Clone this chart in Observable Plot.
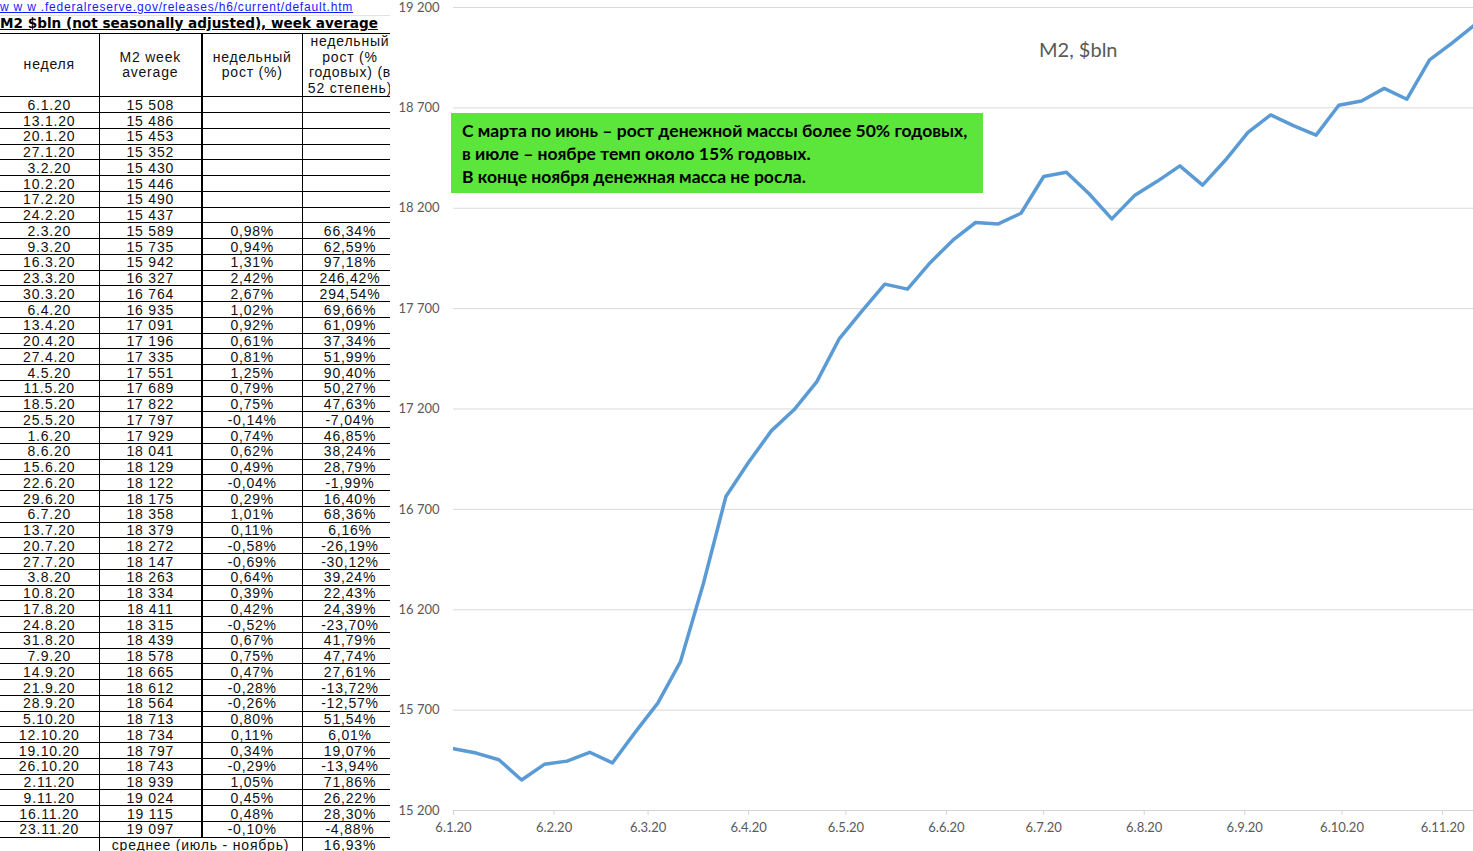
<!DOCTYPE html>
<html><head><meta charset="utf-8">
<script src="https://cdn.jsdelivr.net/npm/d3@7"></script>
<script src="https://cdn.jsdelivr.net/npm/@observablehq/plot@0.6"></script>
<style>
html,body{margin:0;padding:0;background:#fff;}
body{width:1473px;height:851px;overflow:hidden;position:relative;}
#url{position:absolute;left:0;top:0;font:12px "Liberation Sans",Arial,sans-serif;color:#1a1aff;text-decoration:underline;white-space:nowrap;line-height:14px;letter-spacing:0.8px}
#gl{position:absolute;left:0;top:15px;width:390px;border-top:1px solid #e3e3e3}
#ttl{position:absolute;left:0;top:15px;font:bold 13.6px "DejaVu Sans",Verdana,sans-serif;text-decoration:underline;white-space:nowrap;line-height:17px}
table{position:absolute;left:0;top:33px;border-collapse:collapse;table-layout:fixed;width:398px;font:14px "Liberation Sans",Arial,sans-serif;letter-spacing:0.8px;color:#111}
td{border:1px solid #000;padding:0;text-align:center;white-space:nowrap;overflow:visible;height:14.76px;line-height:14px;vertical-align:middle}
td.c1{border-left:none}
td.c3{border-left:2px solid #000}
tr.h td{height:61px;line-height:15.6px}
tr.last td.c1{border-left:none;border-bottom:none}
tr.last td{border-bottom:none}
#chart{position:absolute;left:390px;top:0}
#title{position:absolute;left:1039px;top:37px;font:20px Lato,"Open Sans",sans-serif;color:#595959;white-space:nowrap}
#note{position:absolute;left:451px;top:113px;width:532px;height:80px;background:#5ce53a;box-sizing:border-box;padding:6px 0 0 11px;font:bold 17.5px Lato,"Open Sans",sans-serif;line-height:23px;color:#000;white-space:nowrap}
</style></head>
<body>
<div id="url">w w w .federalreserve.gov/releases/h6/current/default.htm</div>
<div id="gl"></div>
<div id="ttl">M2 $bln (not seasonally adjusted), week average</div>
<table id="tbl"><colgroup><col style="width:99px"><col style="width:103px"><col style="width:100px"><col style="width:96px"></colgroup><tbody></tbody></table>
<div id="chart"></div>
<div id="title">M2, $bln</div>
<div id="note">С марта по июнь – рост денежной массы более 50% годовых,<br>в июле – ноябре темп около 15% годовых.<br>В конце ноября денежная масса не росла.</div>
<script>
// ---- data ----
const weeks = ["6.1.20","13.1.20","20.1.20","27.1.20","3.2.20","10.2.20","17.2.20","24.2.20","2.3.20","9.3.20","16.3.20","23.3.20","30.3.20","6.4.20","13.4.20","20.4.20","27.4.20","4.5.20","11.5.20","18.5.20","25.5.20","1.6.20","8.6.20","15.6.20","22.6.20","29.6.20","6.7.20","13.7.20","20.7.20","27.7.20","3.8.20","10.8.20","17.8.20","24.8.20","31.8.20","7.9.20","14.9.20","21.9.20","28.9.20","5.10.20","12.10.20","19.10.20","26.10.20","2.11.20","9.11.20","16.11.20","23.11.20"];
const m2 = [15508,15486,15453,15352,15430,15446,15490,15437,15589,15735,15942,16327,16764,16935,17091,17196,17335,17551,17689,17822,17797,17929,18041,18129,18122,18175,18358,18379,18272,18147,18263,18334,18411,18315,18439,18578,18665,18612,18564,18713,18734,18797,18743,18939,19024,19115,19097];
const weeklyGrowth = [null,null,null,null,null,null,null,null,0.98,0.94,1.31,2.42,2.67,1.02,0.92,0.61,0.81,1.25,0.79,0.75,-0.14,0.74,0.62,0.49,-0.04,0.29,1.01,0.11,-0.58,-0.69,0.64,0.39,0.42,-0.52,0.67,0.75,0.47,-0.28,-0.26,0.80,0.11,0.34,-0.29,1.05,0.45,0.48,-0.10];
const annualGrowth = [null,null,null,null,null,null,null,null,66.34,62.59,97.18,246.42,294.54,69.66,61.09,37.34,51.99,90.40,50.27,47.63,-7.04,46.85,38.24,28.79,-1.99,16.40,68.36,6.16,-26.19,-30.12,39.24,22.43,24.39,-23.70,41.79,47.74,27.61,-13.72,-12.57,51.54,6.01,19.07,-13.94,71.86,26.22,28.30,-4.88];
const avgLabel = "среднее (июль - ноябрь)";
const avgValue = 16.93;
const headers = ["неделя", "M2 week<br>average", "недельный<br>рост (%)", "недельный<br>рост (%<br>годовых) (в<br>52 степень)"];
const xTickLabels = ["6.1.20","6.2.20","6.3.20","6.4.20","6.5.20","6.6.20","6.7.20","6.8.20","6.9.20","6.10.20","6.11.20"];
const yTicks = [15200,15700,16200,16700,17200,17700,18200,18700,19200];
const visibleEnd = "2020-11-15T13:00Z";

// ---- table ----
const fmtNum = v => d3.format(",")(v).replace(/,/g, " ");
const fmtPct = v => v == null ? "" : v.toFixed(2).replace(".", ",") + "%";
const tb = document.querySelector("#tbl tbody");
let html = '<tr class="h">' + headers.map((h, i) => `<td class="c${i+1}">${h}</td>`).join("") + "</tr>";
weeks.forEach((w, i) => {
  html += `<tr><td class="c1">${w}</td><td class="c2">${fmtNum(m2[i])}</td><td class="c3">${fmtPct(weeklyGrowth[i])}</td><td class="c4">${fmtPct(annualGrowth[i])}</td></tr>`;
});
html += `<tr class="last"><td class="c1" style="border-left:none;border-bottom:none"></td><td colspan="2">${avgLabel}</td><td class="c4">${fmtPct(avgValue)}</td></tr>`;
tb.innerHTML = html;

// ---- chart ----
const parse = d3.utcParse("%d.%m.%y");
const data = weeks.map((w, i) => ({date: parse(w), value: m2[i]}));
const xTicks = xTickLabels.map(parse);
const chart = Plot.plot({
  width: 1083, height: 851,
  marginLeft: 63, marginRight: 0, marginTop: 7, marginBottom: 41,
  style: {fontFamily: "Lato, 'Open Sans', sans-serif", fontSize: "13px", color: "#595959", background: "white"},
  x: {type: "utc", domain: [xTicks[0], new Date(visibleEnd)]},
  y: {domain: [yTicks[0], yTicks[yTicks.length - 1]]},
  marks: [
    Plot.gridY(yTicks, {stroke: "#d9d9d9", strokeOpacity: 1, strokeWidth: 1}),
    Plot.axisY(yTicks, {tickSize: 0, tickPadding: 14, tickFormat: fmtNum, label: null, fill: "#595959"}),
    Plot.ruleY([yTicks[0]], {stroke: "#d4d4d4", strokeWidth: 1}),
    Plot.axisX(xTicks, {tickSize: 5, tickPadding: 7, tickFormat: d3.utcFormat("%-d.%-m.%y"), label: null, stroke: "#d4d4d4", fill: "#595959"}),
    Plot.lineY(data, {x: "date", y: "value", stroke: "#5b9bd5", strokeWidth: 3.5, clip: true, strokeLinejoin: "round"})
  ]
});
document.getElementById("chart").appendChild(chart);
</script>
</body></html>
